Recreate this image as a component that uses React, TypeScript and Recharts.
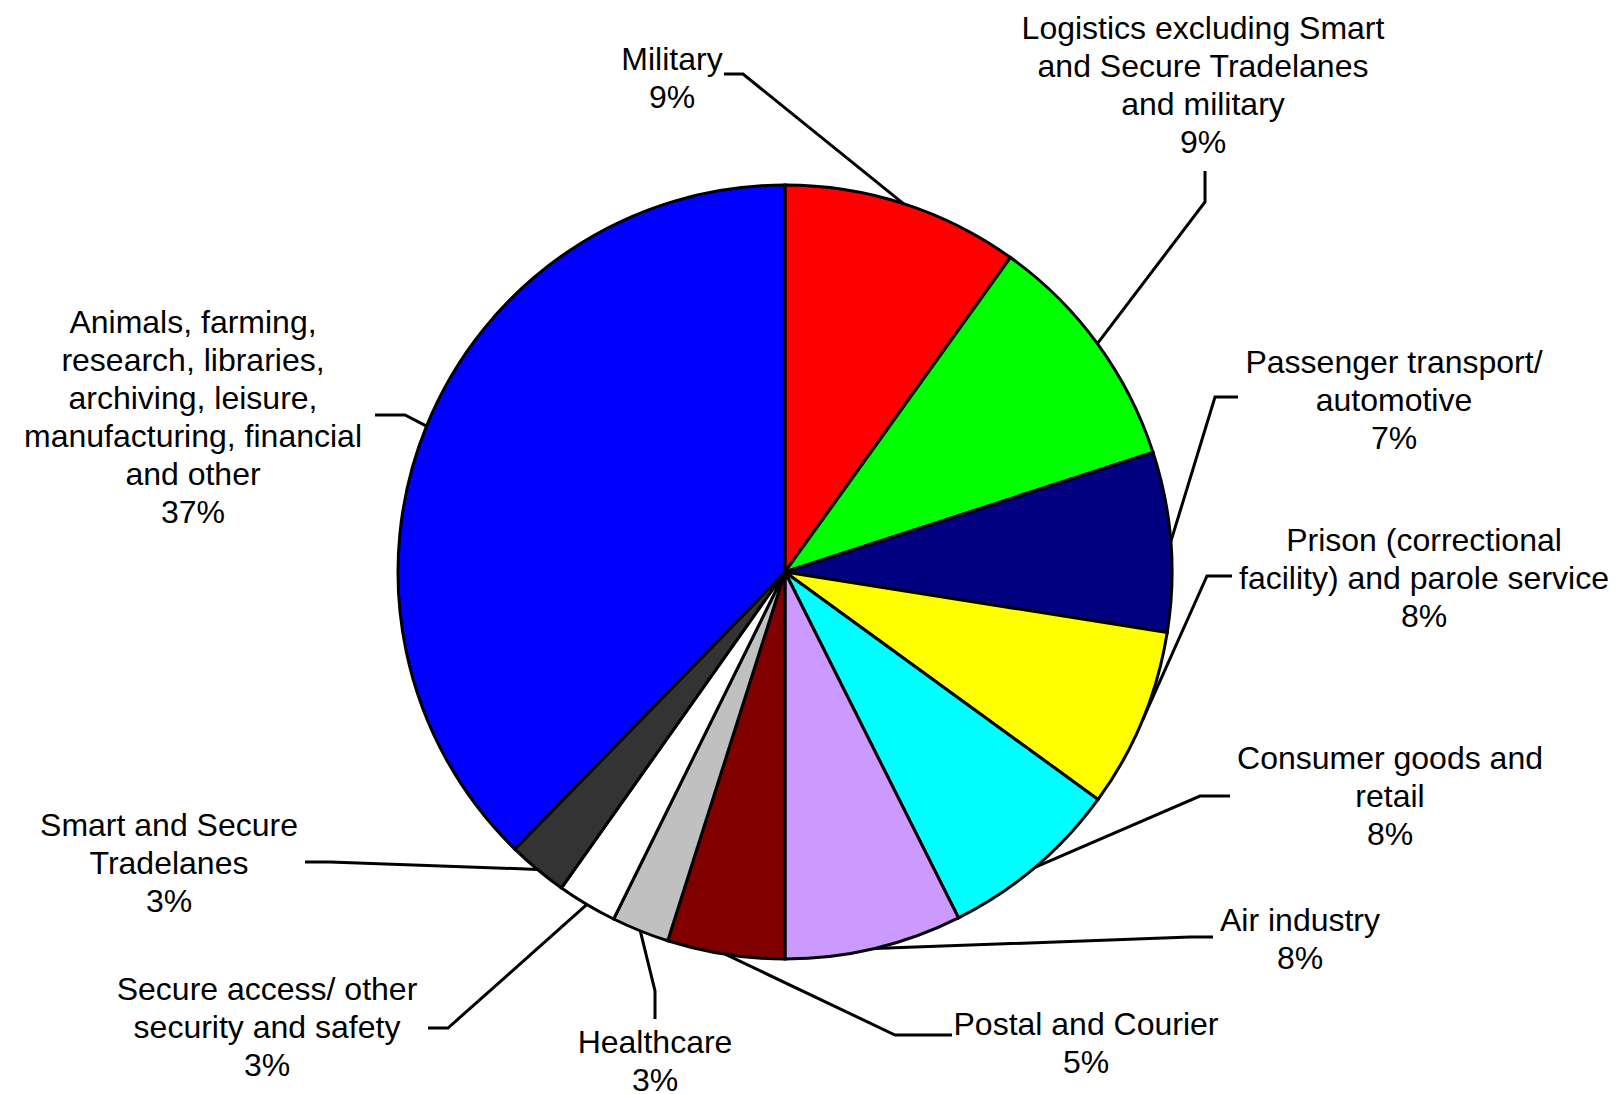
import { PieChart, Pie, Cell } from 'recharts';

const sectors = [
  'Military',
  'Logistics excluding Smart and Secure Tradelanes and military',
  'Passenger transport/ automotive',
  'Prison (correctional facility) and parole service',
  'Consumer goods and retail',
  'Air industry',
  'Postal and Courier',
  'Healthcare',
  'Secure access/ other security and safety',
  'Smart and Secure Tradelanes',
  'Animals, farming, research, libraries, archiving, leisure, manufacturing, financial and other',
];

// slice sizes (share of the circle, %)
const shares = [9.9, 10.1, 7.5, 7.5, 7.6, 7.4, 4.9, 2.4, 2.5, 2.5, 37.7];

// percentages printed in the labels
const percentLabels = ['9%', '9%', '7%', '8%', '8%', '8%', '5%', '3%', '3%', '3%', '37%'];

const colors = [
  '#FF0000', '#00FF00', '#000080', '#FFFF00', '#00FFFF', '#CC99FF',
  '#800000', '#C0C0C0', '#FFFFFF', '#333333', '#0000FF',
];

// how each label is broken into lines
const labelLines = [
  ['Military'],
  ['Logistics excluding Smart', 'and Secure Tradelanes', 'and military'],
  ['Passenger transport/', 'automotive'],
  ['Prison (correctional', 'facility) and parole service'],
  ['Consumer goods and', 'retail'],
  ['Air industry'],
  ['Postal and Courier'],
  ['Healthcare'],
  ['Secure access/ other', 'security and safety'],
  ['Smart and Secure', 'Tradelanes'],
  ['Animals, farming,', 'research, libraries,', 'archiving, leisure,', 'manufacturing, financial', 'and other'],
];

// label placement: text centre x, first line centre y, leader elbow and leader end
const labelLayout = [
  { x: 672, y: 59, elbow: [743, 74], end: [724, 74] },
  { x: 1203, y: 28, elbow: [1205, 202], end: [1205, 171] },
  { x: 1394, y: 362, elbow: [1215, 397], end: [1238, 397] },
  { x: 1424, y: 540, elbow: [1207, 576], end: [1232, 576] },
  { x: 1390, y: 758, elbow: [1200, 796], end: [1230, 796] },
  { x: 1300, y: 920, elbow: [1190, 937], end: [1213, 937] },
  { x: 1086, y: 1024, elbow: [895, 1035], end: [952, 1035] },
  { x: 655, y: 1042, elbow: [655, 991], end: [655, 1019] },
  { x: 267, y: 989, elbow: [448, 1028], end: [428, 1028] },
  { x: 169, y: 825, elbow: [330, 862], end: [305, 862] },
  { x: 193, y: 322, elbow: [405, 415], end: [375, 415] },
];

const data = sectors.map((name, i) => ({ name, value: shares[i] }));

const RADIAN = Math.PI / 180;
const LINE_H = 38;
const FONT = '"Liberation Sans", Arial, sans-serif';

const renderLabel = (props: any) => {
  const { cx, cy, midAngle, outerRadius, index } = props;
  const sx = cx + outerRadius * Math.cos(-midAngle * RADIAN);
  const sy = cy + outerRadius * Math.sin(-midAngle * RADIAN);
  const layout = labelLayout[index];
  const lines = [...labelLines[index], percentLabels[index]];
  return (
    <g key={`label-${index}`}>
      <polyline
        points={`${sx},${sy} ${layout.elbow[0]},${layout.elbow[1]} ${layout.end[0]},${layout.end[1]}`}
        fill="none"
        stroke="#000"
        strokeWidth={3}
      />
      <text textAnchor="middle" fontSize={32} fontFamily={FONT} fill="#000">
        {lines.map((line, i) => (
          <tspan key={i} x={layout.x} y={layout.y + i * LINE_H + 11}>
            {line}
          </tspan>
        ))}
      </text>
    </g>
  );
};

export default function App() {
  return (
    <div style={{ position: 'absolute', left: 0, top: 0, width: 1622, height: 1094, background: '#fff' }}>
      <PieChart width={1622} height={1094} margin={{ top: 0, right: 0, bottom: 0, left: 0 }}>
        <Pie
          data={data}
          dataKey="value"
          nameKey="name"
          cx={785}
          cy={572}
          outerRadius={387}
          startAngle={90}
          endAngle={-270}
          label={renderLabel}
          labelLine={false}
          isAnimationActive={false}
        >
          {data.map((_, index) => (
            <Cell key={index} fill={colors[index]} stroke="#000" strokeWidth={3} />
          ))}
        </Pie>
      </PieChart>
    </div>
  );
}
